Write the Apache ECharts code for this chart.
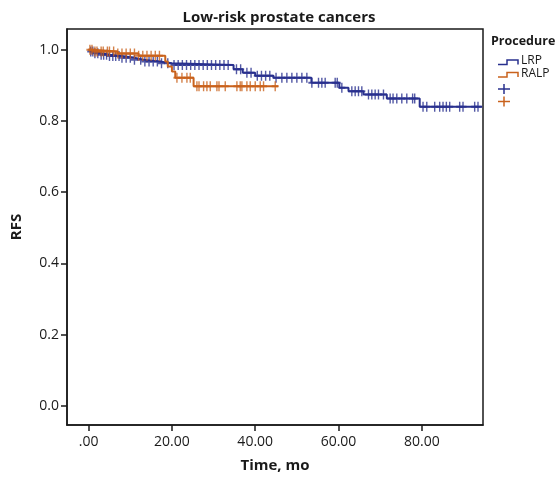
<!DOCTYPE html>
<html>
<head>
<meta charset="utf-8">
<script src="https://cdn.jsdelivr.net/npm/echarts@6/dist/echarts.min.js"></script>
<style>
html,body{margin:0;padding:0;background:#fff;}
#chart{width:558px;height:478px;}
</style>
</head>
<body>
<div id="chart"></div>
<script>
// ---- Data ----
const chartTitle = 'Low-risk prostate cancers';
const xName = 'Time, mo';
const yName = 'RFS';
const legendTitle = 'Procedure';
const groupNames = ['LRP', 'RALP'];

// Kaplan-Meier step points: time (months) where RFS changes, and the new RFS value
const lrpTimes = [0, 0.5, 1.5, 3, 5, 8, 11, 13, 17, 20, 34.8, 37, 40, 44.4, 53.5, 60.2, 62.4, 66, 71.6, 79.5];
const lrpRFS   = [1.0, 0.995, 0.990, 0.986, 0.982, 0.977, 0.972, 0.967, 0.962, 0.957, 0.945, 0.935, 0.927, 0.921, 0.907, 0.893, 0.883, 0.874, 0.863, 0.840];
const lrpEnd = 94.5;

const ralpTimes = [0, 1, 7, 12, 18.4, 19, 20, 20.8, 25.2];
const ralpRFS   = [1.0, 0.995, 0.989, 0.983, 0.967, 0.953, 0.939, 0.921, 0.897];
const ralpEnd = 45.5;

// Censoring times (months)
const lrpCensored = [0.5, 1, 1.5, 2.2, 3, 3.6, 4.3, 5, 5.8, 6.5, 7.3, 8, 9, 10, 11, 12.5, 13.5, 14.5, 15.5, 16.5,
  17.5, 19, 20.5, 21.5, 22.5, 23.5, 24.5, 25.5, 26.5, 27.5, 28.5, 29.5, 30.5, 31.5, 32.5, 33.5, 35.5, 36.5, 38, 39,
  40.5, 41.5, 42.5, 43.5, 45, 46.4, 47.6, 48.8, 50, 51.2, 52.4, 53.6, 55.2, 56, 56.8, 59.2, 59.7, 60.8, 63.2, 64,
  64.8, 65.6, 67.2, 68, 68.8, 69.6, 70.8, 72.4, 73.1, 74, 75.2, 76.4, 77.8, 78.3, 80.3, 81.2, 83.1, 84.3, 85.1,
  85.9, 86.7, 89.1, 89.9, 92.7, 93.5];
const ralpCensored = [0.3, 0.8, 1.5, 2, 3, 3.5, 4.5, 5, 6, 7, 8, 9, 10, 11, 12, 13, 14, 15, 16, 17,
  21.2, 22.4, 23.6, 24.4, 26, 26.5, 27.6, 28.4, 29.2, 30.8, 31.3, 32.8, 35.6, 36.4, 36.8, 38, 38.8, 40, 41.2, 42, 44.8];

// Axis ticks
const xTickValues = [0, 20, 40, 60, 80];
const xTickLabels = ['.00', '20.00', '40.00', '60.00', '80.00'];
const yTickValues = [0, 0.2, 0.4, 0.6, 0.8, 1.0];
const yTickLabels = ['0.0', '0.2', '0.4', '0.6', '0.8', '1.0'];

// ---- Styling ----
const BLUE = '#28308e';
const ORANGE = '#c9621c';
const FONT = '"Open Sans", sans-serif';
const TEXT = '#1a1a1a';

function stepLine(times, vals, end) {
  const pts = times.map((t, i) => [t, vals[i]]);
  pts.push([end, vals[vals.length - 1]]);
  return pts;
}
function valueAt(times, vals, t) {
  let v = vals[0];
  for (let i = 0; i < times.length; i++) { if (times[i] <= t) v = vals[i]; }
  return v;
}
function censorPts(cens, times, vals) {
  return cens.map(t => [t, valueAt(times, vals, t)]);
}

const PLUS = 'path://M4,0H6V4H10V6H6V10H4V6H0V4H4Z';

const chart = echarts.init(document.getElementById('chart'), null, {renderer: 'canvas'});
chart.setOption({
  animation: false,
  backgroundColor: '#ffffff',
  title: {
    text: chartTitle,
    left: 'center',
    top: 5,
    textStyle: {fontFamily: FONT, fontSize: 15, fontWeight: 'bold', color: TEXT}
  },
  grid: {
    left: 67, right: 75, top: 29, bottom: 51,
    show: true, borderColor: '#1a1a1a', borderWidth: 1.5, backgroundColor: 'transparent'
  },
  xAxis: {
    type: 'value',
    min: -5.2, max: 94.7,
    name: xName,
    nameLocation: 'middle',
    nameGap: 33,
    nameTextStyle: {fontFamily: FONT, fontSize: 15, fontWeight: 'bold', color: TEXT},
    axisLine: {show: true, onZero: false, lineStyle: {color: '#1a1a1a', width: 1.5}},
    axisTick: {show: true, length: 6, lineStyle: {color: '#1a1a1a', width: 1.5}, customValues: xTickValues},
    axisLabel: {
      show: true, margin: 10, fontFamily: FONT, fontSize: 14, color: TEXT,
      customValues: xTickValues,
      formatter: v => { const i = xTickValues.findIndex(x => Math.abs(x - v) < 1e-6); return i >= 0 ? xTickLabels[i] : ''; }
    },
    splitLine: {show: false}
  },
  yAxis: {
    type: 'value',
    min: -0.054, max: 1.058,
    name: yName,
    nameLocation: 'middle',
    nameGap: 43,
    nameTextStyle: {fontFamily: FONT, fontSize: 15, fontWeight: 'bold', color: TEXT},
    axisLine: {show: true, onZero: false, lineStyle: {color: '#1a1a1a', width: 1.5}},
    axisTick: {show: true, length: 6, lineStyle: {color: '#1a1a1a', width: 1.5}, customValues: yTickValues},
    axisLabel: {
      show: true, margin: 8, fontFamily: FONT, fontSize: 14, color: TEXT,
      customValues: yTickValues,
      formatter: v => { const i = yTickValues.findIndex(x => Math.abs(x - v) < 1e-6); return i >= 0 ? yTickLabels[i] : ''; }
    },
    splitLine: {show: false}
  },
  series: [
    {
      name: groupNames[0], type: 'line', step: 'end', showSymbol: false,
      data: stepLine(lrpTimes, lrpRFS, lrpEnd),
      lineStyle: {color: BLUE, width: 2}, itemStyle: {color: BLUE}, z: 2
    },
    {
      name: groupNames[0] + ' censored', type: 'scatter', symbol: PLUS, symbolSize: [7, 10],
      data: censorPts(lrpCensored, lrpTimes, lrpRFS),
      itemStyle: {color: BLUE}, z: 3
    },
    {
      name: groupNames[1], type: 'line', step: 'end', showSymbol: false,
      data: stepLine(ralpTimes, ralpRFS, ralpEnd),
      lineStyle: {color: ORANGE, width: 2}, itemStyle: {color: ORANGE}, z: 4
    },
    {
      name: groupNames[1] + ' censored', type: 'scatter', symbol: PLUS, symbolSize: [7, 10],
      data: censorPts(ralpCensored, ralpTimes, ralpRFS),
      itemStyle: {color: ORANGE}, z: 5
    }
  ],
  graphic: [
    {type: 'text', left: 491, top: 35, style: {text: legendTitle, font: 'bold 12.5px ' + FONT, fill: TEXT}},
    {type: 'polyline', shape: {points: [[498, 64.5], [507, 64.5], [507, 60], [518, 60], [518, 64.5]]}, style: {stroke: BLUE, lineWidth: 1.5, fill: null}},
    {type: 'text', left: 521, top: 55, style: {text: groupNames[0], font: '12px ' + FONT, fill: TEXT}},
    {type: 'polyline', shape: {points: [[498, 77], [507, 77], [507, 72.5], [518, 72.5], [518, 77]]}, style: {stroke: ORANGE, lineWidth: 1.5, fill: null}},
    {type: 'text', left: 521, top: 67.5, style: {text: groupNames[1], font: '12px ' + FONT, fill: TEXT}},
    {type: 'polyline', shape: {points: [[498, 89], [510, 89]]}, style: {stroke: BLUE, lineWidth: 1.5}},
    {type: 'polyline', shape: {points: [[504, 84], [504, 94]]}, style: {stroke: BLUE, lineWidth: 1.5}},
    {type: 'polyline', shape: {points: [[498, 101.5], [510, 101.5]]}, style: {stroke: ORANGE, lineWidth: 1.5}},
    {type: 'polyline', shape: {points: [[504, 96.5], [504, 106.5]]}, style: {stroke: ORANGE, lineWidth: 1.5}}
  ]
});
</script>
</body>
</html>
